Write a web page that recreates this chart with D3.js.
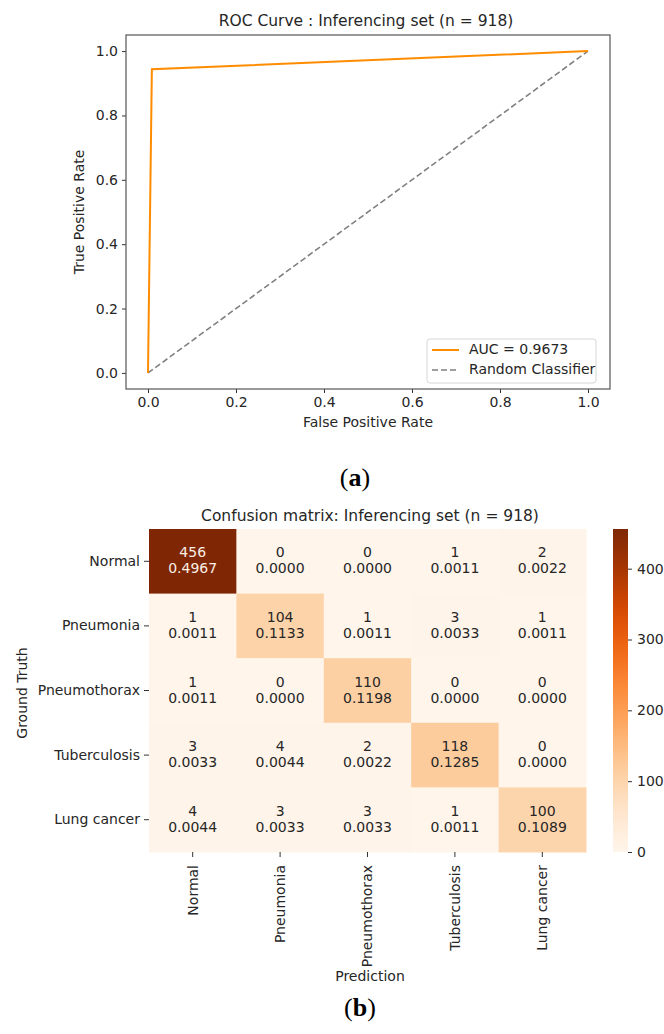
<!DOCTYPE html>
<html><head><meta charset="utf-8">
<script src="https://cdn.jsdelivr.net/npm/d3@7"></script>
<style>
html,body{margin:0;padding:0;background:#fff;}
svg{display:block;font-family:"DejaVu Sans",sans-serif;}
</style></head>
<body>
<svg id="c" width="664" height="1034"></svg>
<script>
// ---- data ----
const rocFpr = [0, 0.0088, 1];
const rocTpr = [0, 0.9434, 1];
const randFpr = [0, 1];
const randTpr = [0, 1];
const rocTicks = [0, 0.2, 0.4, 0.6, 0.8, 1.0];
const aucLabel = "AUC = 0.9673";
const classes = ["Normal", "Pneumonia", "Pneumothorax", "Tuberculosis", "Lung cancer"];
const counts = [
  [456, 0, 0, 1, 2],
  [1, 104, 1, 3, 1],
  [1, 0, 110, 0, 0],
  [3, 4, 2, 118, 0],
  [4, 3, 3, 1, 100]
];
const total = 918;
const cbTicks = [0, 100, 200, 300, 400];

const svg = d3.select("#c");
const txt = "#262626";
const FS = 14;

// ---- ROC ----
const rx = d3.scaleLinear().domain([-0.05, 1.05]).range([126, 610]);
const ry = d3.scaleLinear().domain([-0.05, 1.05]).range([389, 35]);
const roc = svg.append("g");

roc.append("text").attr("x", 366).attr("y", 21).attr("text-anchor", "middle")
  .attr("dominant-baseline", "middle").attr("font-size", 15.5).attr("fill", txt)
  .text("ROC Curve : Inferencing set (n = " + total + ")");

const xAx = roc.append("g").attr("transform", "translate(0,389)")
  .call(d3.axisBottom(rx).tickValues(rocTicks).tickFormat(d3.format(".1f")).tickSize(4).tickPadding(4));
const yAx = roc.append("g").attr("transform", "translate(126,0)")
  .call(d3.axisLeft(ry).tickValues(rocTicks).tickFormat(d3.format(".1f")).tickSize(4).tickPadding(4));
[xAx, yAx].forEach(a => {
  a.select(".domain").remove();
  a.selectAll("line").attr("stroke", "#333").attr("stroke-width", 1);
  a.selectAll("text").attr("font-size", FS).attr("fill", txt).attr("font-family", "DejaVu Sans");
});
roc.append("rect").attr("x", 126).attr("y", 35).attr("width", 484).attr("height", 354)
  .attr("fill", "none").attr("stroke", "#555").attr("stroke-width", 1.2);

const line = d3.line().x(d => rx(d[0])).y(d => ry(d[1]));
roc.append("path").datum(randFpr.map((f, i) => [f, randTpr[i]])).attr("d", line)
  .attr("fill", "none").attr("stroke", "#808080").attr("stroke-width", 1.6).attr("stroke-dasharray", "6,3");
roc.append("path").datum(rocFpr.map((f, i) => [f, rocTpr[i]])).attr("d", line)
  .attr("fill", "none").attr("stroke", "#ff8c00").attr("stroke-width", 2);

roc.append("text").attr("x", 368).attr("y", 423).attr("text-anchor", "middle")
  .attr("dominant-baseline", "middle").attr("font-size", FS).attr("fill", txt).text("False Positive Rate");
roc.append("text").attr("transform", "translate(80,212) rotate(-90)").attr("text-anchor", "middle")
  .attr("dominant-baseline", "middle").attr("font-size", FS).attr("fill", txt).text("True Positive Rate");

// legend
const lg = roc.append("g");
lg.append("rect").attr("x", 427).attr("y", 339).attr("width", 169).attr("height", 44).attr("rx", 3)
  .attr("fill", "#fff").attr("fill-opacity", 0.8).attr("stroke", "#d6d6d6");
lg.append("line").attr("x1", 432).attr("x2", 459).attr("y1", 350).attr("y2", 350)
  .attr("stroke", "#ff8c00").attr("stroke-width", 2);
lg.append("line").attr("x1", 432).attr("x2", 459).attr("y1", 370).attr("y2", 370)
  .attr("stroke", "#808080").attr("stroke-width", 1.6).attr("stroke-dasharray", "6,3");
lg.append("text").attr("x", 469).attr("y", 350).attr("dominant-baseline", "middle")
  .attr("font-size", FS).attr("fill", txt).text(aucLabel);
lg.append("text").attr("x", 469).attr("y", 370).attr("dominant-baseline", "middle")
  .attr("font-size", FS).attr("fill", txt).text("Random Classifier");

// (a) / (b)
const lab = (x, y, l) => {
  const t = svg.append("text").attr("x", x).attr("y", y).attr("text-anchor", "middle")
    .attr("dominant-baseline", "middle").attr("font-family", "Liberation Serif, serif")
    .attr("font-size", 26).attr("fill", "#000");
  t.append("tspan").text("(");
  t.append("tspan").attr("font-weight", "bold").text(l);
  t.append("tspan").text(")");
};
lab(355, 480, "a");
lab(360, 1010, "b");

// ---- Confusion matrix ----
const cm = svg.append("g");
const cx = d3.scaleBand().domain(classes).range([149, 586]);
const cy = d3.scaleBand().domain(classes).range([529, 852]);
const vmax = d3.max(counts.flat());
const color = d3.scaleSequential(d3.interpolateOranges).domain([0, vmax]);
const fmt = d3.format(".4f");

cm.append("text").attr("x", 370).attr("y", 516).attr("text-anchor", "middle")
  .attr("dominant-baseline", "middle").attr("font-size", 15.5).attr("fill", txt)
  .text("Confusion matrix: Inferencing set (n = " + total + ")");

const cells = [];
counts.forEach((row, i) => row.forEach((v, j) => cells.push({r: classes[i], c: classes[j], v})));
cm.selectAll("rect.cell").data(cells).join("rect").attr("class", "cell")
  .attr("x", d => cx(d.c)).attr("y", d => cy(d.r))
  .attr("width", cx.bandwidth() + 0.5).attr("height", cy.bandwidth() + 0.5)
  .attr("fill", d => color(d.v));
const ann = cm.selectAll("text.ann").data(cells).join("text").attr("class", "ann")
  .attr("text-anchor", "middle").attr("font-size", FS)
  .attr("fill", d => d.v > vmax * 0.6 ? "#fbeee4" : txt);
ann.append("tspan").attr("x", d => cx(d.c) + cx.bandwidth() / 2)
  .attr("y", d => cy(d.r) + cy.bandwidth() / 2 - 8).attr("dominant-baseline", "middle").text(d => d.v);
ann.append("tspan").attr("x", d => cx(d.c) + cx.bandwidth() / 2)
  .attr("y", d => cy(d.r) + cy.bandwidth() / 2 + 8).attr("dominant-baseline", "middle").text(d => fmt(d.v / total));

const cxAx = cm.append("g").attr("transform", "translate(0,852)")
  .call(d3.axisBottom(cx).tickSize(5).tickPadding(5));
cxAx.selectAll("text").attr("transform", "rotate(-90)").attr("text-anchor", "end")
  .attr("x", -13).attr("y", 0).attr("dy", "0.35em");
const cyAx = cm.append("g").attr("transform", "translate(149,0)")
  .call(d3.axisLeft(cy).tickSize(5).tickPadding(4));
[cxAx, cyAx].forEach(a => {
  a.select(".domain").remove();
  a.selectAll("line").attr("stroke", "#333");
  a.selectAll("text").attr("font-size", FS).attr("fill", txt).attr("font-family", "DejaVu Sans");
});
cm.append("text").attr("x", 370).attr("y", 977).attr("text-anchor", "middle")
  .attr("dominant-baseline", "middle").attr("font-size", FS).attr("fill", txt).text("Prediction");
cm.append("text").attr("transform", "translate(23,693) rotate(-90)").attr("text-anchor", "middle")
  .attr("dominant-baseline", "middle").attr("font-size", FS).attr("fill", txt).text("Ground Truth");

// colorbar
const cbScale = d3.scaleLinear().domain([0, vmax]).range([852, 529]);
const defs = svg.append("defs");
const grad = defs.append("linearGradient").attr("id", "cbg").attr("x1", 0).attr("y1", 1).attr("x2", 0).attr("y2", 0);
d3.range(0, 1.0001, 0.05).forEach(t => grad.append("stop").attr("offset", t).attr("stop-color", color(t * vmax)));
cm.append("rect").attr("x", 613).attr("y", 529).attr("width", 15).attr("height", 323).attr("fill", "url(#cbg)");
const cbAx = cm.append("g").attr("transform", "translate(628,0)")
  .call(d3.axisRight(cbScale).tickValues(cbTicks).tickSize(4).tickPadding(5));
cbAx.select(".domain").remove();
cbAx.selectAll("line").attr("stroke", "#333");
cbAx.selectAll("text").attr("font-size", FS).attr("fill", txt).attr("font-family", "DejaVu Sans");
</script>
</body></html>
